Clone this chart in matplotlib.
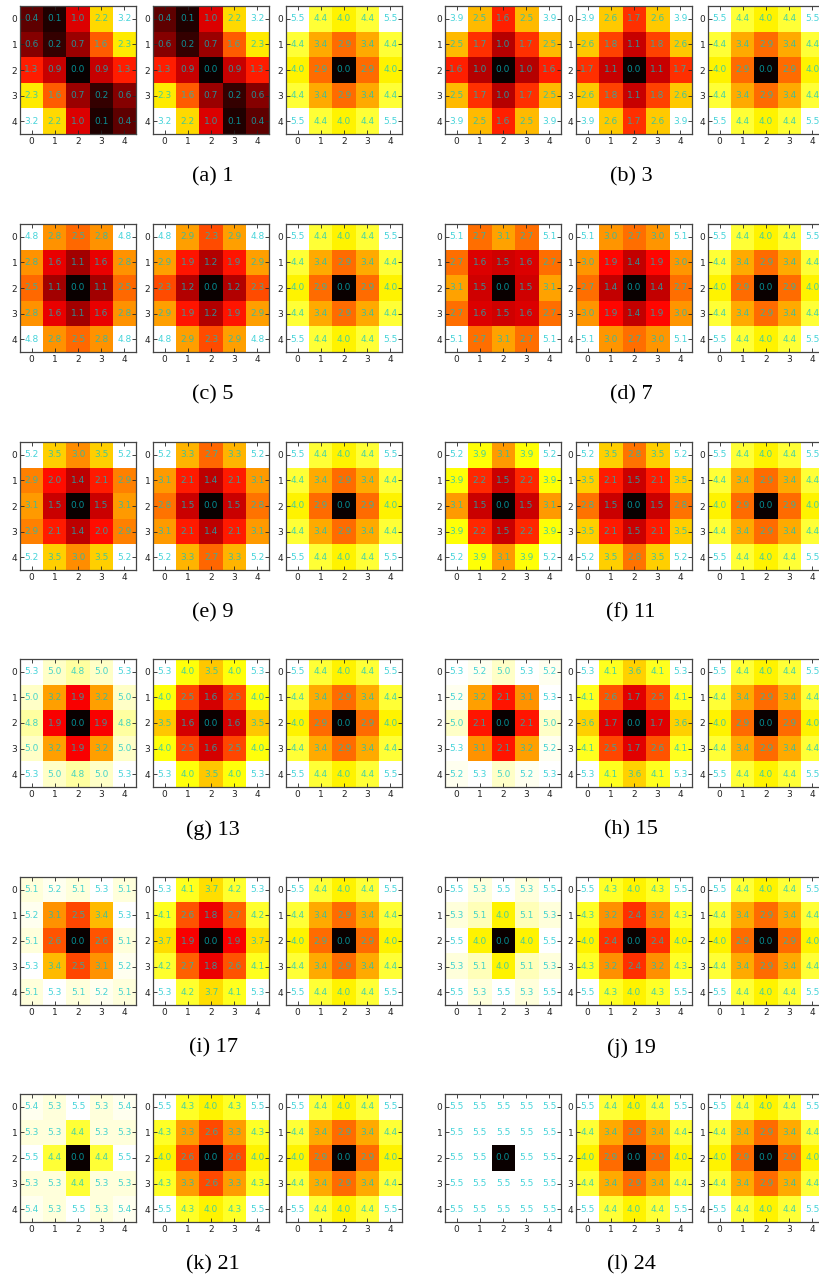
import numpy as np
import matplotlib
matplotlib.use("Agg")
import matplotlib.pyplot as plt

# referencia (igual em todos os paineis)
ref = [[5.5, 4.4, 4.0, 4.4, 5.5],
       [4.4, 3.4, 2.9, 3.4, 4.4],
       [4.0, 2.9, 0.0, 2.9, 4.0],
       [4.4, 3.4, 2.9, 3.4, 4.4],
       [5.5, 4.4, 4.0, 4.4, 5.5]]

a1 = [[0.4, 0.1, 1.0, 2.2, 3.2],
      [0.6, 0.2, 0.7, 1.6, 2.3],
      [1.3, 0.9, 0.0, 0.9, 1.3],
      [2.3, 1.6, 0.7, 0.2, 0.6],
      [3.2, 2.2, 1.0, 0.1, 0.4]]
a2 = [[0.4, 0.1, 1.0, 2.2, 3.2],
      [0.6, 0.2, 0.7, 1.6, 2.3],
      [1.3, 0.9, 0.0, 0.9, 1.3],
      [2.3, 1.6, 0.7, 0.2, 0.6],
      [3.2, 2.2, 1.0, 0.1, 0.4]]

b1 = [[3.9, 2.5, 1.6, 2.5, 3.9],
      [2.5, 1.7, 1.0, 1.7, 2.5],
      [1.6, 1.0, 0.0, 1.0, 1.6],
      [2.5, 1.7, 1.0, 1.7, 2.5],
      [3.9, 2.5, 1.6, 2.5, 3.9]]
b2 = [[3.9, 2.6, 1.7, 2.6, 3.9],
      [2.6, 1.8, 1.1, 1.8, 2.6],
      [1.7, 1.1, 0.0, 1.1, 1.7],
      [2.6, 1.8, 1.1, 1.8, 2.6],
      [3.9, 2.6, 1.7, 2.6, 3.9]]

c1 = [[4.8, 2.8, 2.5, 2.8, 4.8],
      [2.8, 1.6, 1.1, 1.6, 2.8],
      [2.5, 1.1, 0.0, 1.1, 2.5],
      [2.8, 1.6, 1.1, 1.6, 2.8],
      [4.8, 2.8, 2.5, 2.8, 4.8]]
c2 = [[4.8, 2.9, 2.3, 2.9, 4.8],
      [2.9, 1.9, 1.2, 1.9, 2.9],
      [2.3, 1.2, 0.0, 1.2, 2.3],
      [2.9, 1.9, 1.2, 1.9, 2.9],
      [4.8, 2.9, 2.3, 2.9, 4.8]]

d1 = [[5.1, 2.7, 3.1, 2.7, 5.1],
      [2.7, 1.6, 1.5, 1.6, 2.7],
      [3.1, 1.5, 0.0, 1.5, 3.1],
      [2.7, 1.6, 1.5, 1.6, 2.7],
      [5.1, 2.7, 3.1, 2.7, 5.1]]
d2 = [[5.1, 3.0, 2.7, 3.0, 5.1],
      [3.0, 1.9, 1.4, 1.9, 3.0],
      [2.7, 1.4, 0.0, 1.4, 2.7],
      [3.0, 1.9, 1.4, 1.9, 3.0],
      [5.1, 3.0, 2.7, 3.0, 5.1]]

e1 = [[5.2, 3.5, 3.0, 3.5, 5.2],
      [2.9, 2.0, 1.4, 2.1, 2.9],
      [3.1, 1.5, 0.0, 1.5, 3.1],
      [2.9, 2.1, 1.4, 2.0, 2.9],
      [5.2, 3.5, 3.0, 3.5, 5.2]]
e2 = [[5.2, 3.3, 2.7, 3.3, 5.2],
      [3.1, 2.1, 1.4, 2.1, 3.1],
      [2.8, 1.5, 0.0, 1.5, 2.8],
      [3.1, 2.1, 1.4, 2.1, 3.1],
      [5.2, 3.3, 2.7, 3.3, 5.2]]

f1 = [[5.2, 3.9, 3.1, 3.9, 5.2],
      [3.9, 2.2, 1.5, 2.2, 3.9],
      [3.1, 1.5, 0.0, 1.5, 3.1],
      [3.9, 2.2, 1.5, 2.2, 3.9],
      [5.2, 3.9, 3.1, 3.9, 5.2]]
f2 = [[5.2, 3.5, 2.8, 3.5, 5.2],
      [3.5, 2.1, 1.5, 2.1, 3.5],
      [2.8, 1.5, 0.0, 1.5, 2.8],
      [3.5, 2.1, 1.5, 2.1, 3.5],
      [5.2, 3.5, 2.8, 3.5, 5.2]]

g1 = [[5.3, 5.0, 4.8, 5.0, 5.3],
      [5.0, 3.2, 1.9, 3.2, 5.0],
      [4.8, 1.9, 0.0, 1.9, 4.8],
      [5.0, 3.2, 1.9, 3.2, 5.0],
      [5.3, 5.0, 4.8, 5.0, 5.3]]
g2 = [[5.3, 4.0, 3.5, 4.0, 5.3],
      [4.0, 2.5, 1.6, 2.5, 4.0],
      [3.5, 1.6, 0.0, 1.6, 3.5],
      [4.0, 2.5, 1.6, 2.5, 4.0],
      [5.3, 4.0, 3.5, 4.0, 5.3]]

h1 = [[5.3, 5.2, 5.0, 5.3, 5.2],
      [5.2, 3.2, 2.1, 3.1, 5.3],
      [5.0, 2.1, 0.0, 2.1, 5.0],
      [5.3, 3.1, 2.1, 3.2, 5.2],
      [5.2, 5.3, 5.0, 5.2, 5.3]]
h2 = [[5.3, 4.1, 3.6, 4.1, 5.3],
      [4.1, 2.6, 1.7, 2.5, 4.1],
      [3.6, 1.7, 0.0, 1.7, 3.6],
      [4.1, 2.5, 1.7, 2.6, 4.1],
      [5.3, 4.1, 3.6, 4.1, 5.3]]

i1 = [[5.1, 5.2, 5.1, 5.3, 5.1],
      [5.2, 3.1, 2.5, 3.4, 5.3],
      [5.1, 2.6, 0.0, 2.6, 5.1],
      [5.3, 3.4, 2.5, 3.1, 5.2],
      [5.1, 5.3, 5.1, 5.2, 5.1]]
i2 = [[5.3, 4.1, 3.7, 4.2, 5.3],
      [4.1, 2.6, 1.8, 2.7, 4.2],
      [3.7, 1.9, 0.0, 1.9, 3.7],
      [4.2, 2.7, 1.8, 2.6, 4.1],
      [5.3, 4.2, 3.7, 4.1, 5.3]]

j1 = [[5.5, 5.3, 5.5, 5.3, 5.5],
      [5.3, 5.1, 4.0, 5.1, 5.3],
      [5.5, 4.0, 0.0, 4.0, 5.5],
      [5.3, 5.1, 4.0, 5.1, 5.3],
      [5.5, 5.3, 5.5, 5.3, 5.5]]
j2 = [[5.5, 4.3, 4.0, 4.3, 5.5],
      [4.3, 3.2, 2.4, 3.2, 4.3],
      [4.0, 2.4, 0.0, 2.4, 4.0],
      [4.3, 3.2, 2.4, 3.2, 4.3],
      [5.5, 4.3, 4.0, 4.3, 5.5]]

k1 = [[5.4, 5.3, 5.5, 5.3, 5.4],
      [5.3, 5.3, 4.4, 5.3, 5.3],
      [5.5, 4.4, 0.0, 4.4, 5.5],
      [5.3, 5.3, 4.4, 5.3, 5.3],
      [5.4, 5.3, 5.5, 5.3, 5.4]]
k2 = [[5.5, 4.3, 4.0, 4.3, 5.5],
      [4.3, 3.3, 2.6, 3.3, 4.3],
      [4.0, 2.6, 0.0, 2.6, 4.0],
      [4.3, 3.3, 2.6, 3.3, 4.3],
      [5.5, 4.3, 4.0, 4.3, 5.5]]

l1 = [[5.5, 5.5, 5.5, 5.5, 5.5],
      [5.5, 5.5, 5.5, 5.5, 5.5],
      [5.5, 5.5, 0.0, 5.5, 5.5],
      [5.5, 5.5, 5.5, 5.5, 5.5],
      [5.5, 5.5, 5.5, 5.5, 5.5]]
l2 = [[5.5, 4.4, 4.0, 4.4, 5.5],
      [4.4, 3.4, 2.9, 3.4, 4.4],
      [4.0, 2.9, 0.0, 2.9, 4.0],
      [4.4, 3.4, 2.9, 3.4, 4.4],
      [5.5, 4.4, 4.0, 4.4, 5.5]]

legendas = ["(a) 1", "(b) 3", "(c) 5", "(d) 7", "(e) 9", "(f) 11",
            "(g) 13", "(h) 15", "(i) 17", "(j) 19", "(k) 21", "(l) 24"]
paineis = [(a1, a2), (b1, b2), (c1, c2), (d1, d2), (e1, e2), (f1, f2),
           (g1, g2), (h1, h2), (i1, i2), (j1, j2), (k1, k2), (l1, l2)]

W, H = 819, 1277
fig = plt.figure(figsize=(W / 100, H / 100), dpi=100)

x_esq = [[20, 153, 286], [445, 576, 708]]
x_leg = [213, 631]
topos = [6, 224, 442, 659, 877, 1094]
larg, alt = 116, 128
cor_txt = "#00c4cc"


def desenhar_mapa(ax, m):
    m = np.array(m)
    ax.imshow(m, cmap="hot", interpolation="nearest", aspect="auto")
    for r in range(m.shape[0]):
        for c in range(m.shape[1]):
            ax.text(c, r, "%.1f" % m[r, c], ha="center", va="center",
                    fontsize=6.5, color=cor_txt, alpha=0.72)
    ax.set_xticks(range(5))
    ax.set_yticks(range(5))
    ax.tick_params(direction="in", length=3, width=0.6, labelsize=6.5,
                   top=True, right=True, pad=2, colors="#222222")
    for s in ax.spines.values():
        s.set_color("#444444")
        s.set_linewidth(0.9)


for k, (legenda, (m1, m2)) in enumerate(zip(legendas, paineis)):
    lin, col = k // 2, k % 2
    topo = topos[lin]
    for j, m in enumerate([m1, m2, ref]):
        x0 = x_esq[col][j]
        ax = fig.add_axes([x0 / W, 1 - (topo + alt) / H, larg / W, alt / H])
        desenhar_mapa(ax, m)
    fig.text(x_leg[col] / W, 1 - (topo + 171) / H, legenda, ha="center",
             va="center", fontsize=16, family="Liberation Serif")

fig.savefig("out.png", dpi=100)
